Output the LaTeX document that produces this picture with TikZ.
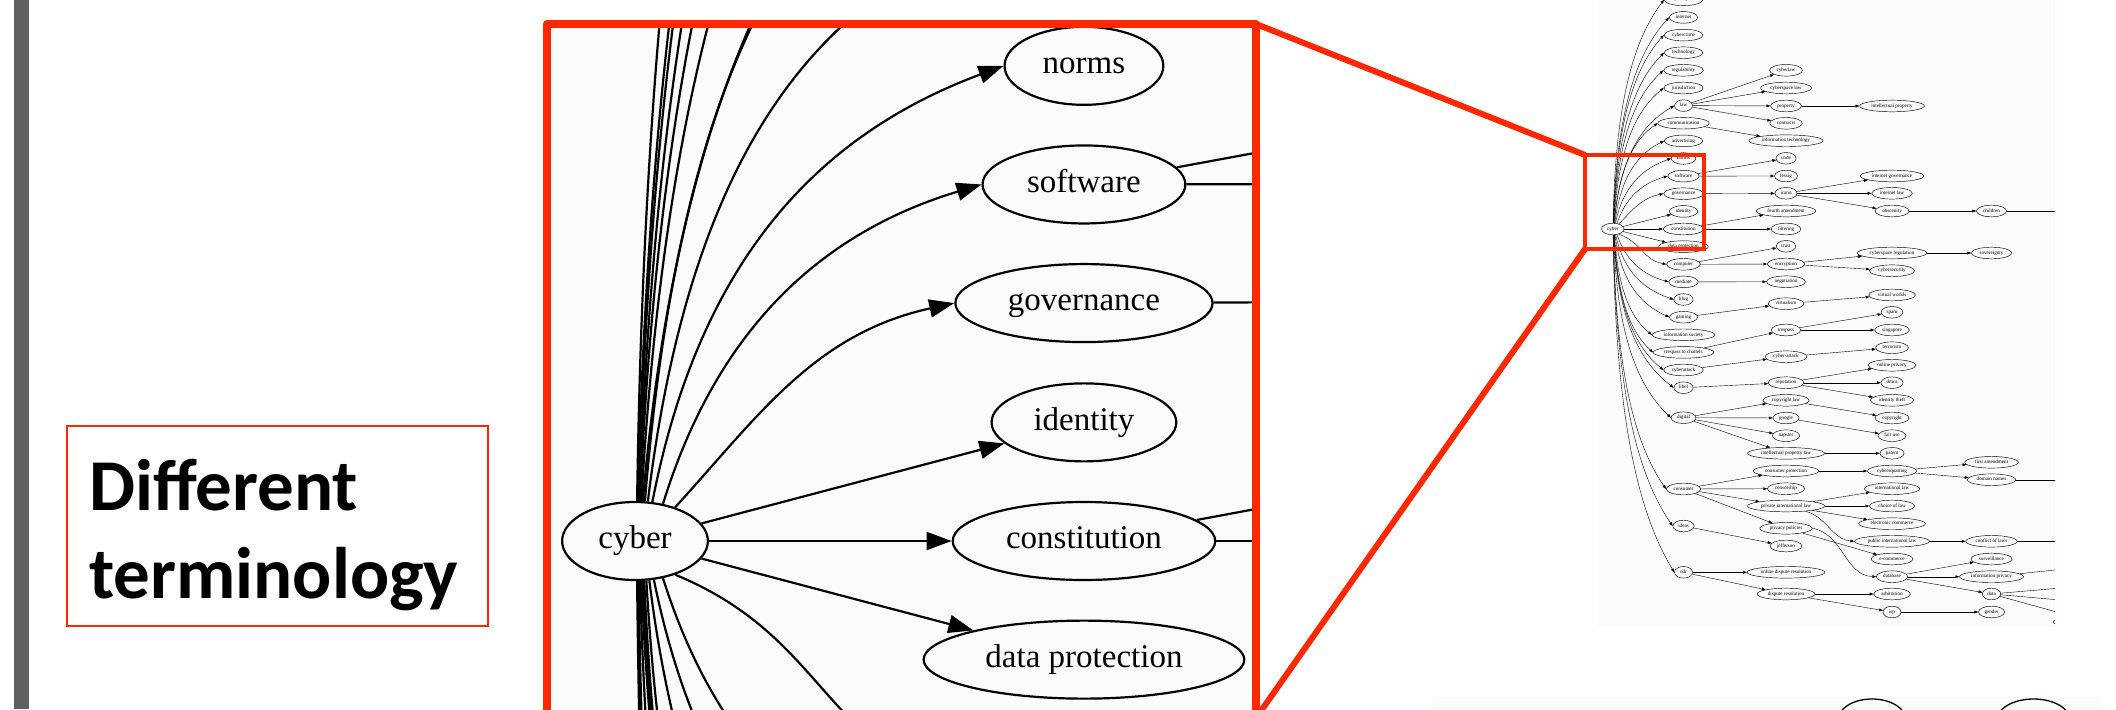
\documentclass[tikz,border=0pt]{standalone}
\usepackage{fontspec}
\setmainfont{Liberation Serif}
\newfontfamily\calib{Carlito}
\usetikzlibrary{shapes.geometric,arrows.meta,calc}
\definecolor{slidered}{RGB}{255,40,0}
\definecolor{barGray}{RGB}{96,96,96}
\definecolor{graphbg}{RGB}{250,252,250}

\newif\ifbigmode
% ordinary node: in the magnified copy it lies outside the frame, so it keeps its size only
\newcommand\gnode[4]{\ifbigmode\node[gn,draw=none] (#1) at ({gmapx(#2)},{gmapy(#3)}) {\phantom{#4}};%
  \else\node[gn] (#1) at ({gmapx(#2)},{gmapy(#3)}) {#4};\fi}
% node that is visible in both copies
\newcommand\vnode[4]{\node[gn] (#1) at ({gmapx(#2)},{gmapy(#3)}) {#4};}
\newcommand\gedge[2]{\draw[ge] (#1) -- (#2);}
\newcommand\cedge[4]{\draw[ge] let \p1=(cyber.#1), \p2=(#2.west), \n1={\x2-\x1}, \n2={\y2-\y1} in
  (\p1) .. controls (\x1+#3*\n1, \y1+#4*\n2) and (\x2-0.5*\n1, \y2-0.15*\n2) .. (\p2);}

\newcommand\cybergraph{%
% rank 0
\vnode{cyber}{1612.8}{229}{cyber}
% rank 1
\gnode{cyberspace}{1683.5}{-0.2}{cyberspace}
\gnode{internet}{1683.5}{17.4}{internet}
\gnode{cybercrime}{1683.5}{35.1}{cybercrime}
\gnode{technology}{1683.5}{52.7}{technology}
\gnode{regulability}{1683.5}{70.3}{regulability}
\gnode{jurisdiction}{1683.5}{88}{jurisdiction}
\gnode{law}{1683.5}{105.6}{law}
\gnode{communication}{1683.5}{123.2}{communication}
\gnode{advertising}{1683.5}{140.9}{advertising}
\vnode{norms}{1683.5}{158.5}{norms}
\vnode{software}{1683.5}{176.1}{software}
\vnode{governance}{1683.5}{193.7}{governance}
\vnode{identity}{1683.5}{211.4}{identity}
\vnode{constitution}{1683.5}{229}{constitution}
\vnode{dataprot}{1683.5}{246.6}{data protection}
\gnode{computer}{1683.5}{264.3}{computer}
\gnode{mediate}{1683.5}{281.9}{mediate}
\gnode{blog}{1683.5}{299.5}{blog}
\gnode{gaming}{1683.5}{317.2}{gaming}
\gnode{infosoc}{1683.5}{334.8}{information society}
\gnode{tresch}{1683.5}{352.4}{trespass to chattels}
\gnode{cyberattack}{1683.5}{370}{cyberattack}
\gnode{libel}{1683.5}{387.7}{libel}
\gnode{digital}{1683.5}{417.7}{digital}
\gnode{consumer}{1683.5}{489}{consumer}
\gnode{ideas}{1683.5}{526}{ideas}
\gnode{odr}{1683.5}{572.3}{odr}
% rank 2
\gnode{cyberlaw}{1786}{70.3}{cyberlaw}
\gnode{cslaw}{1786}{88}{cyberspace law}
\gnode{property}{1786}{106}{property}
\gnode{contracts}{1786}{123.3}{contracts}
\gnode{infotech}{1786}{140.7}{information technology}
\gnode{code}{1786}{158.3}{code}
\gnode{lessig}{1786}{176}{lessig}
\gnode{icann}{1786}{193.3}{icann}
\gnode{fourth}{1786}{211}{fourth amendment}
\gnode{filtering}{1786}{229}{filtering}
\gnode{trust}{1786}{246.3}{trust}
\gnode{encryption}{1786}{264}{encryption}
\gnode{negotiation}{1786}{281.7}{negotiation}
\gnode{virtualism}{1786}{303.7}{virtualism}
\gnode{trespass}{1786}{330}{trespass}
\gnode{cyberatt}{1786}{356.7}{cyber-attack}
\gnode{reputation}{1786}{382.7}{reputation}
\gnode{crlaw}{1786}{400.3}{copyright law}
\gnode{google}{1786}{418}{google}
\gnode{napster}{1786}{435.7}{napster}
\gnode{iplaw}{1786}{453.3}{intellectual property law}
\gnode{conprot}{1786}{471}{consumer protection}
\gnode{censorship}{1786}{488.7}{censorship}
\gnode{pil}{1786}{506}{private international law}
\gnode{privpol}{1786}{528.3}{privacy policies}
\gnode{jefferson}{1786}{546}{jefferson}
\gnode{odrfull}{1786}{572.3}{online dispute resolution}
\gnode{dispres}{1786}{594}{dispute resolution}
% rank 3
\gnode{ip}{1892}{106}{intellectual property}
\gnode{igov}{1892}{176}{internet governance}
\gnode{ilaw}{1892}{193.3}{internet law}
\gnode{obscenity}{1892}{211}{obscenity}
\gnode{csreg}{1892}{253}{cyberspace regulation}
\gnode{cybersec}{1892}{270.7}{cybersecurity}
\gnode{vworlds}{1892}{295}{virtual worlds}
\gnode{spam}{1892}{312.3}{spam}
\gnode{singapore}{1892}{330}{singapore}
\gnode{terrorism}{1892}{347.7}{terrorism}
\gnode{onpriv}{1892}{365.3}{online privacy}
\gnode{dmca}{1892}{382.7}{dmca}
\gnode{idtheft}{1892}{400.3}{identity theft}
\gnode{copyright}{1892}{418}{copyright}
\gnode{fairuse}{1892}{435.7}{fair use}
\gnode{patent}{1892}{453.3}{patent}
\gnode{cybersq}{1892}{471}{cybersquatting}
\gnode{intlaw}{1892}{488.7}{international law}
\gnode{col}{1892}{506}{choice of law}
\gnode{ecommerce}{1892}{523.7}{electronic commerce}
\gnode{pubil}{1892}{541.3}{public international law}
\gnode{ecom}{1892}{559}{e-commerce}
\gnode{database}{1892}{576.7}{database}
\gnode{arbitration}{1892}{594}{arbitration}
\gnode{isp}{1892}{612}{isp}
% rank 4
\gnode{children}{1991.5}{211}{children}
\gnode{sovereignty}{1991.5}{253}{sovereignty}
\gnode{firstam}{1991.5}{462.3}{first amendment}
\gnode{domain}{1991.5}{479.7}{domain names}
\gnode{conflict}{1991.5}{541.3}{conflict of laws}
\gnode{surveillance}{1991.5}{559}{surveillance}
\gnode{infopriv}{1991.5}{576.7}{information privacy}
\gnode{data}{1991.5}{594}{data}
\gnode{gender}{1991.5}{612}{gender}
% rank 5 (beyond the crop)
\coordinate (r5a) at ({gmapx(2130)},{gmapy(211)});
\coordinate (r5b) at ({gmapx(2130)},{gmapy(479.7)});
\coordinate (r5c) at ({gmapx(2130)},{gmapy(541.3)});
\coordinate (r5d) at ({gmapx(2130)},{gmapy(562)});
\coordinate (r5e) at ({gmapx(2130)},{gmapy(582)});
\coordinate (r5f) at ({gmapx(2130)},{gmapy(606)});
\node[gn, minimum width=80] (r5g) at ({gmapx(2093)},{gmapy(622)}) {};
% edges from cyber
\cedge{87}{cyberspace}{0.04}{0.6}
\cedge{86}{internet}{0.06}{0.6}
\cedge{85}{cybercrime}{0.07}{0.6}
\cedge{84}{technology}{0.08}{0.6}
\cedge{83}{regulability}{0.09}{0.6}
\cedge{81}{jurisdiction}{0.1}{0.6}
\cedge{79}{law}{0.11}{0.6}
\cedge{76}{communication}{0.12}{0.6}
\cedge{72}{advertising}{0.13}{0.6}
\cedge{66}{norms}{0.14}{0.58}
\cedge{53}{software}{0.17}{0.55}
\cedge{40}{governance}{0.3}{0.45}
\gedge{cyber}{identity}
\gedge{cyber}{constitution}
\gedge{cyber}{dataprot}
\cedge{320}{computer}{0.5}{0.3}
\cedge{307}{mediate}{0.17}{0.55}
\cedge{296}{blog}{0.14}{0.58}
\cedge{290}{gaming}{0.12}{0.6}
\cedge{286}{infosoc}{0.1}{0.6}
\cedge{283}{tresch}{0.09}{0.6}
\cedge{281}{cyberattack}{0.08}{0.6}
\cedge{279}{libel}{0.07}{0.6}
\cedge{277}{digital}{0.06}{0.6}
\cedge{275}{consumer}{0.05}{0.6}
\cedge{274}{ideas}{0.05}{0.6}
\cedge{273}{odr}{0.04}{0.6}
% rank 1 -> 2
\gedge{law}{cyberlaw}\gedge{law}{cslaw}\gedge{law}{property}\gedge{law}{contracts}
\gedge{communication}{infotech}
\gedge{software}{code}\gedge{software}{lessig}
\gedge{governance}{icann}
\gedge{constitution}{fourth}\gedge{constitution}{filtering}
\gedge{computer}{trust}\gedge{computer}{encryption}
\gedge{mediate}{negotiation}
\gedge{gaming}{virtualism}
\gedge{tresch}{trespass}
\gedge{cyberattack}{cyberatt}
\gedge{libel}{reputation}
\gedge{digital}{crlaw}\gedge{digital}{google}\gedge{digital}{napster}\gedge{digital}{iplaw}
\gedge{consumer}{conprot}\gedge{consumer}{censorship}\gedge{consumer}{pil}\gedge{consumer}{privpol}
\gedge{ideas}{jefferson}
\gedge{odr}{odrfull}\gedge{odr}{dispres}
% rank 2 -> 3
\gedge{property}{ip}
\gedge{icann}{igov}\gedge{icann}{ilaw}\gedge{icann}{obscenity}
\gedge{encryption}{csreg}\gedge{encryption}{cybersec}
\gedge{virtualism}{vworlds}
\gedge{trespass}{spam}\gedge{trespass}{singapore}
\gedge{cyberatt}{terrorism}
\gedge{reputation}{onpriv}\gedge{reputation}{dmca}\gedge{reputation}{idtheft}
\gedge{crlaw}{copyright}
\gedge{google}{fairuse}
\gedge{iplaw}{patent}
\gedge{conprot}{cybersq}
\gedge{pil}{intlaw}\gedge{pil}{col}\gedge{pil}{ecommerce}
\draw[ge] (pil) to[out=-15,in=175] (pubil.west);
\gedge{privpol}{ecom}
\draw[ge] (privpol.east) to[out=-10,in=178] (database.west);
\gedge{dispres}{arbitration}\gedge{dispres}{isp}
% rank 3 -> 4
\gedge{obscenity}{children}
\gedge{csreg}{sovereignty}
\gedge{cybersq}{firstam}\gedge{cybersq}{domain}
\gedge{pubil}{conflict}
\gedge{database}{surveillance}\gedge{database}{infopriv}\gedge{database}{data}
\gedge{isp}{gender}
% rank 4 -> 5
\gedge{children}{r5a}
\gedge{domain}{r5b}
\gedge{conflict}{r5c}
\gedge{infopriv}{r5d}
\gedge{data}{r5e}\gedge{data}{r5f}\gedge{data}{r5g}
}

\begin{document}
\begin{tikzpicture}[x=1pt,y=-1pt]
\useasboundingbox (0,0) rectangle (2116,709);
\fill[white] (0,0) rectangle (2116,709);

% left grey bar
\fill[barGray] (14,0) rectangle (29,709);

% text box
\node[draw=slidered, line width=2, minimum width=421, minimum height=200,
      anchor=north west, inner sep=0, fill=white] (tbox) at (66,425) {};
\node[anchor=west, align=left, inner sep=0,
      font=\calib\bfseries\fontsize{73}{88}\selectfont] (tterm) at (89,535) {Different\\terminology};

% small overview graph
\begin{scope}[declare function={gmapx(\a)=\a; gmapy(\a)=\a;},
  gn/.style={ellipse, draw, line width=0.45, font=\fontsize{5.1}{6}\selectfont,
             inner xsep=2.3, inner ysep=0, minimum height=11.6, minimum width=18,
             text height=3.5, text depth=1.1},
  ge/.style={line width=0.4, -{Triangle[length=3.8,width=2.8]}}]
  \fill[graphbg] (1599,0) rectangle (2055,627);
  \clip (1599,0) rectangle (2055,627);
  \cybergraph
\end{scope}

% lower graph strip
\fill[graphbg] (1432,697) rectangle (2101,709);
\node[draw, ellipse, line width=1.3, minimum width=68, minimum height=42] (low1) at (1872,720) {};
\node[draw, ellipse, line width=1.3, minimum width=73, minimum height=42] (low2) at (2033.5,720) {};

% magnified graph
\begin{scope}[declare function={gmapx(\a)=635+(\a-1612.8)*6.35; gmapy(\a)=541+(\a-229)*6.74;},
  gn/.style={ellipse, draw, line width=2.2, font=\fontsize{33}{40}\selectfont,
             inner xsep=14.9, inner ysep=0, minimum height=78, minimum width=117,
             text height=22.5, text depth=7},
  ge/.style={line width=2.2, -{Triangle[length=25,width=18]}}]
  \bigmodetrue
  \fill[graphbg] (551,28) rectangle (1252,714);
  \clip (551,28) rectangle (1252,714);
  \cybergraph
\end{scope}

% red zoom frames
\node[draw=slidered, line width=8, line join=round, minimum width=709, minimum height=694,
      anchor=north west, inner sep=0, outer sep=0] (bigbox) at (547,24) {};
\node[draw=slidered, line width=4.5, minimum width=119, minimum height=94,
      anchor=north west, inner sep=0, outer sep=0] (smallbox) at (1585,155) {};
\draw[slidered, line width=6] (bigbox.north east) -- (smallbox.north west);
\draw[slidered, line width=6] (bigbox.south east) -- (smallbox.south west);
\end{tikzpicture}
\end{document}
